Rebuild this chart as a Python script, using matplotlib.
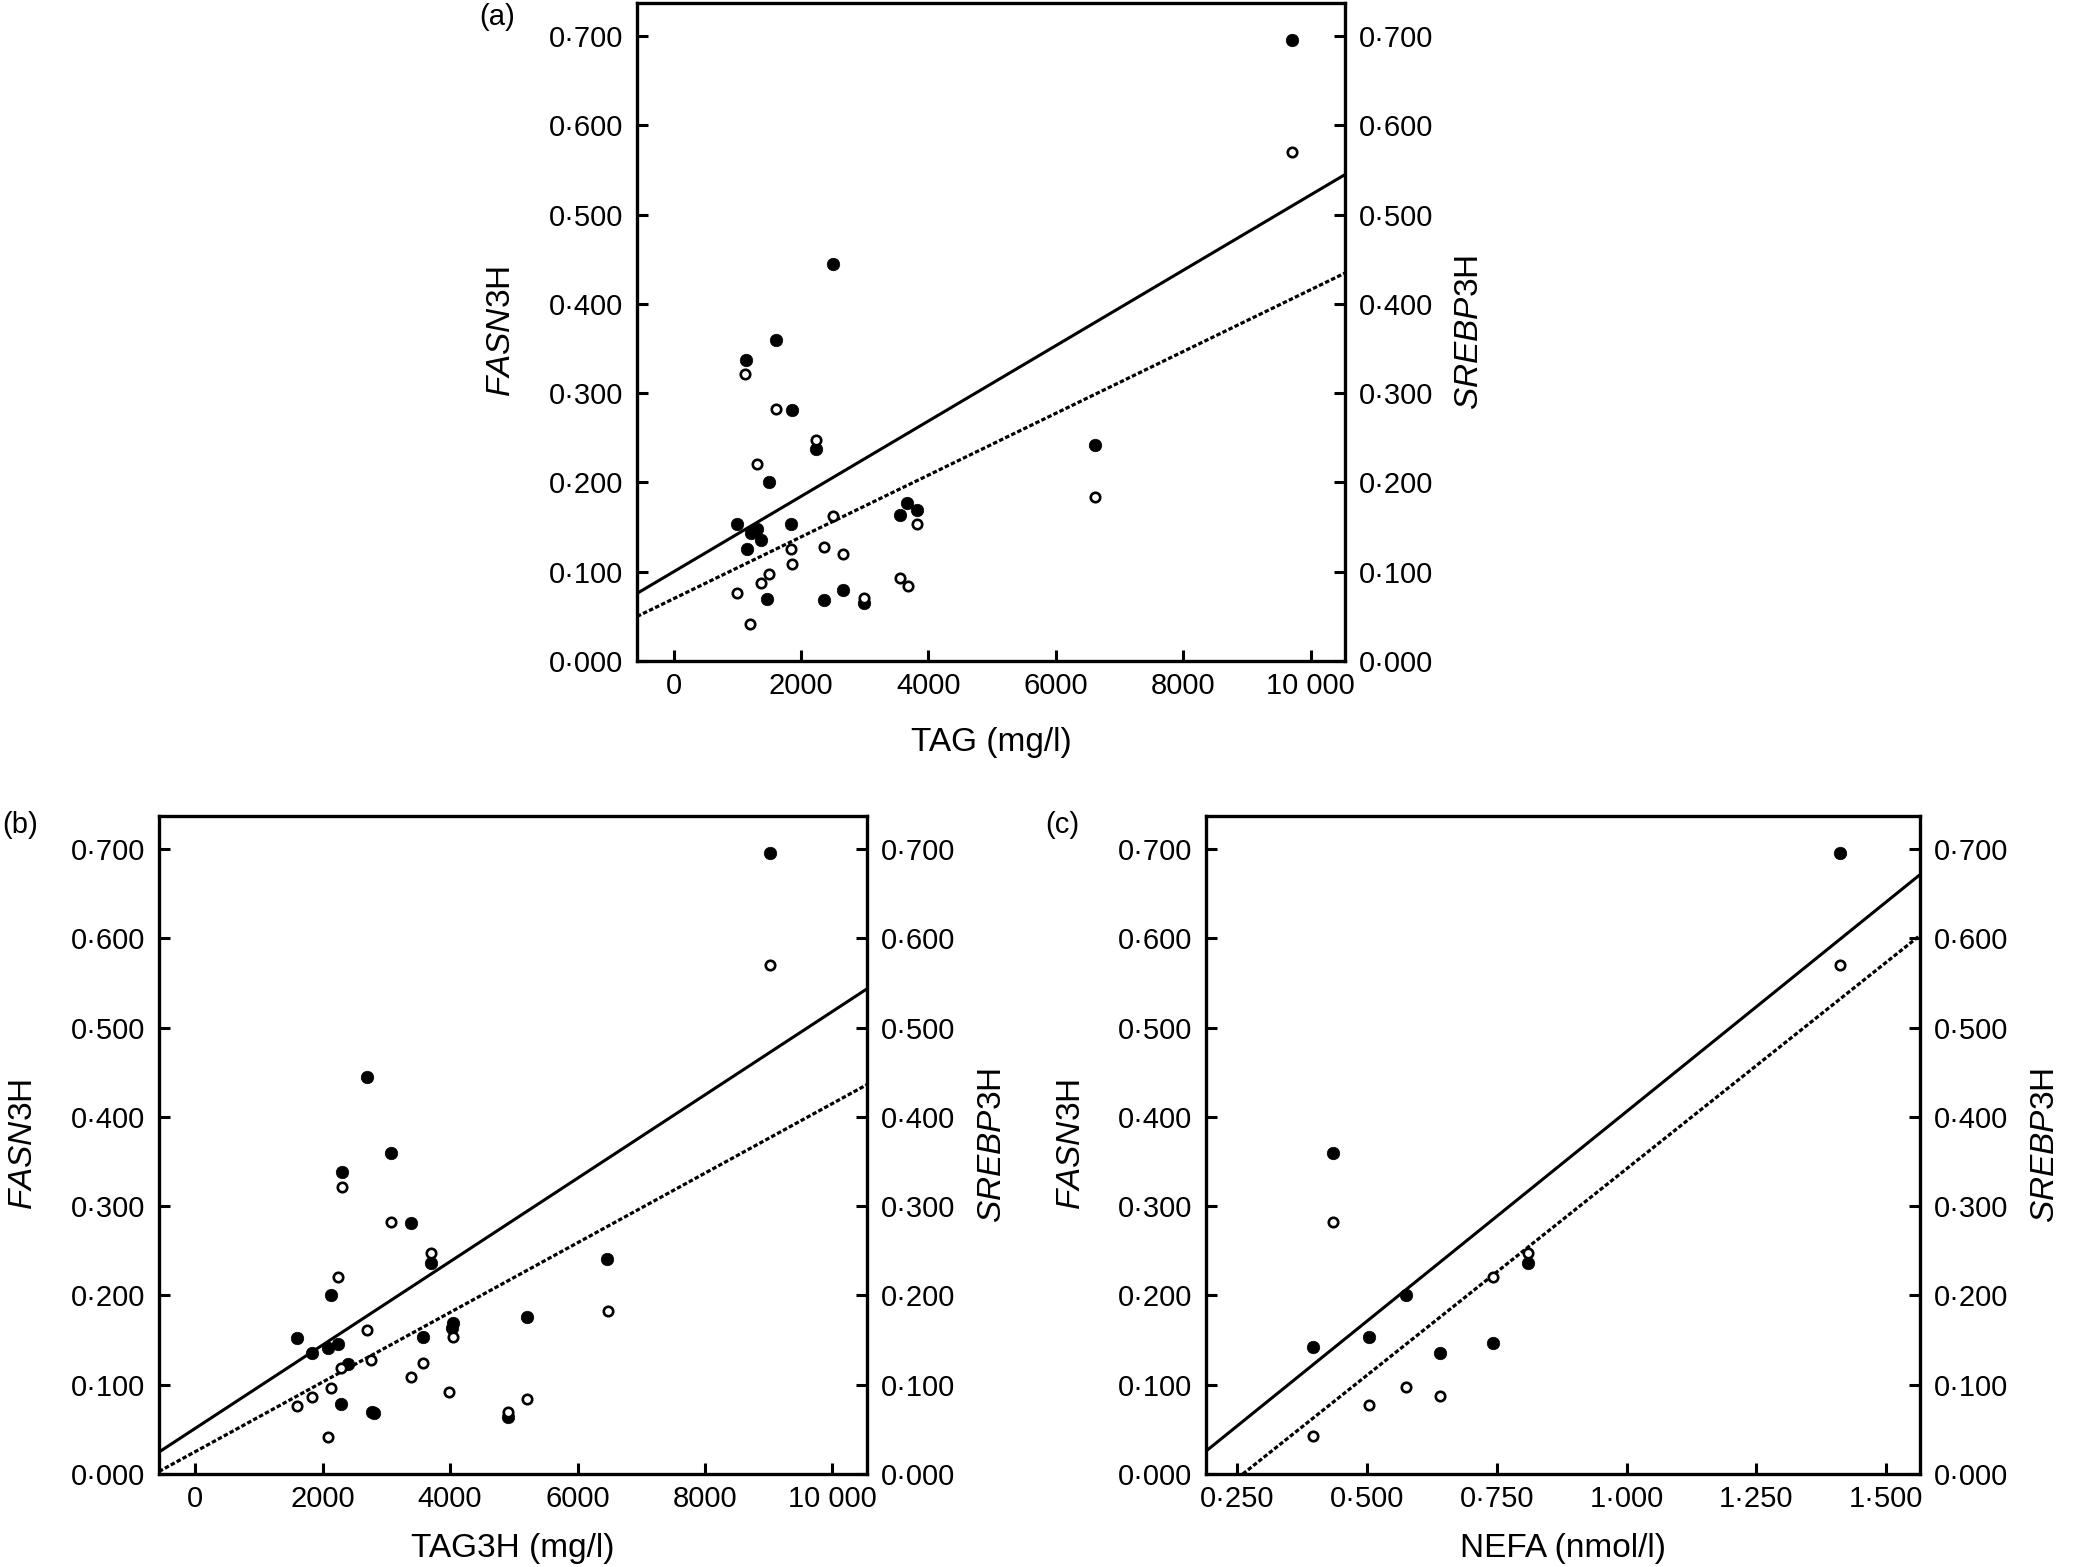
import numpy as np
import matplotlib
matplotlib.use("Agg")
import matplotlib.pyplot as plt
from matplotlib.ticker import FuncFormatter

plt.rcParams['font.family'] = ['Liberation Sans', 'DejaVu Sans']
plt.rcParams['mathtext.fontset'] = 'custom'
plt.rcParams['mathtext.rm'] = 'Liberation Sans'
plt.rcParams['mathtext.it'] = 'Liberation Sans:italic'

# (a) TAG (mg/l)
tag_fasn_x = [999, 1132, 1156, 1209, 1303, 1371, 1460, 1491, 1607, 1847, 1852,
              2235, 2366, 2508, 2654, 2988, 3554, 3669, 3826, 6609, 9715]
tag_fasn_y = [0.153, 0.337, 0.125, 0.143, 0.1475, 0.135, 0.069, 0.201, 0.359, 0.153, 0.281,
              0.237, 0.068, 0.445, 0.080, 0.065, 0.164, 0.177, 0.169, 0.2415, 0.696]
tag_srebp_x = [999, 1124, 1198, 1303, 1366, 1497, 1614, 1847, 1853, 2235,
               2360, 2507, 2654, 2988, 3554, 3675, 3826, 6609, 9715]
tag_srebp_y = [0.0765, 0.321, 0.041, 0.221, 0.087, 0.097, 0.282, 0.125, 0.109, 0.247,
               0.128, 0.162, 0.120, 0.071, 0.093, 0.084, 0.153, 0.184, 0.570]
tag_fit_fasn = (0.100, 4.22e-5)     # intercept, slope
tag_fit_srebp = (0.0698, 3.46e-5)

# (b) TAG3H (mg/l)
tag3h_fasn_x = [1593, 1838, 2079, 2127, 2236, 2288, 2297, 2393, 2703, 2775, 2800,
                3072, 3387, 3570, 3703, 4030, 4050, 4904, 5202, 6468, 9027]
tag3h_fasn_y = [0.1525, 0.135, 0.141, 0.200, 0.146, 0.078, 0.338, 0.123, 0.445, 0.069, 0.068,
                0.359, 0.281, 0.153, 0.236, 0.164, 0.169, 0.064, 0.176, 0.241, 0.696]
tag3h_srebp_x = [1593, 1838, 2079, 2127, 2236, 2288, 2297, 2701, 2760, 3072,
                 3386, 3570, 3703, 3988, 4041, 4904, 5202, 6473, 9027]
tag3h_srebp_y = [0.076, 0.0865, 0.041, 0.096, 0.221, 0.119, 0.321, 0.161, 0.128, 0.282,
                 0.109, 0.124, 0.247, 0.092, 0.153, 0.070, 0.084, 0.183, 0.570]
tag3h_fit_fasn = (0.0511, 4.67e-5)
tag3h_fit_srebp = (0.025, 3.90e-5)

# (c) NEFA (nmol/l)
nefa_fasn_x = [0.396, 0.434, 0.503, 0.576, 0.640, 0.743, 0.811, 1.411]
nefa_fasn_y = [0.142, 0.359, 0.154, 0.201, 0.135, 0.147, 0.236, 0.696]
nefa_srebp_x = [0.396, 0.434, 0.503, 0.576, 0.640, 0.743, 0.811, 1.411]
nefa_srebp_y = [0.043, 0.282, 0.077, 0.097, 0.087, 0.221, 0.247, 0.570]
nefa_fit_fasn = (-0.0636, 0.4696)
nefa_fit_srebp = (-0.1207, 0.4626)

y_ticks = [0.0, 0.1, 0.2, 0.3, 0.4, 0.5, 0.6, 0.7]
tag_ticks = [0, 2000, 4000, 6000, 8000, 10000]
nefa_ticks = [0.25, 0.5, 0.75, 1.0, 1.25, 1.5]

FS = 21     # tick labels
LFS = 24    # axis labels
W, H = 2073, 1567


def dot3(v, pos=None):
    return f"{v:.3f}".replace(".", "\u00b7")


def thousands(v, pos=None):
    v = int(round(v))
    return f"{v:,}".replace(",", " ") if v >= 10000 else str(v)


def panel(rect, fx, fy, sx, sy, fit_f, fit_s, xlim, xticks, xfmt, xlabel, xlab_off):
    l, b, r, t = rect
    ax = fig.add_axes([l / W, 1 - b / H, (r - l) / W, (b - t) / H])
    ax.set_xlim(*xlim)
    ax.set_ylim(0, 0.737)
    xx = np.array(xlim)
    ax.plot(xx, fit_f[0] + fit_f[1] * xx, color='black', lw=2.2, zorder=2)
    ax.plot(xx, fit_s[0] + fit_s[1] * xx, color='black', lw=2.3,
            dashes=(1.4, 0.7), zorder=2)
    ax.plot(fx, fy, 'o', ms=9, mfc='black', mec='black', mew=0.5, ls='none', zorder=3)
    ax.plot(sx, sy, 'o', ms=6.8, mfc='white', mec='black', mew=1.9, ls='none', zorder=4)

    ax.set_xticks(xticks)
    ax.xaxis.set_major_formatter(FuncFormatter(xfmt))
    ax.set_yticks(y_ticks)
    ax.yaxis.set_major_formatter(FuncFormatter(dot3))
    ax.tick_params(axis='both', direction='in', length=8, width=2.2,
                   labelsize=FS, pad=8)
    ax.tick_params(axis='y', pad=10)
    for s in ax.spines.values():
        s.set_linewidth(2.4)

    ax2 = ax.twinx()
    ax2.set_ylim(0, 0.737)
    ax2.set_yticks(y_ticks)
    ax2.yaxis.set_major_formatter(FuncFormatter(dot3))
    ax2.tick_params(axis='y', direction='in', length=8, width=2.2,
                    labelsize=FS, pad=10)

    wpx = r - l
    hpx = b - t
    ax.set_xlabel(xlabel, fontsize=LFS, va='center')
    ax.xaxis.set_label_coords(0.5, -xlab_off / hpx)
    ax.set_ylabel(r'$\mathit{FASN}$3H', fontsize=LFS, va='center')
    ax.yaxis.set_label_coords(-135 / wpx, 0.5)
    ax2.set_ylabel(r'$\mathit{SREBP}$3H', fontsize=LFS, va='center', rotation=90)
    ax2.yaxis.set_label_coords(1 + 125 / wpx, 0.5)
    return ax


fig = plt.figure(figsize=(W / 100, H / 100), dpi=100)

panel((637, 661, 1345, 3), tag_fasn_x, tag_fasn_y, tag_srebp_x, tag_srebp_y,
      tag_fit_fasn, tag_fit_srebp, (-576, 10541), tag_ticks, thousands,
      'TAG (mg/l)', 81)
panel((159, 1474, 867, 816), tag3h_fasn_x, tag3h_fasn_y, tag3h_srebp_x, tag3h_srebp_y,
      tag3h_fit_fasn, tag3h_fit_srebp, (-568, 10542), tag_ticks, thousands,
      'TAG3H (mg/l)', 75)
panel((1206, 1474, 1920, 816), nefa_fasn_x, nefa_fasn_y, nefa_srebp_x, nefa_srebp_y,
      nefa_fit_fasn, nefa_fit_srebp, (0.19, 1.565), nefa_ticks, dot3,
      'NEFA (nmol/l)', 75)

fig.text(497 / W, 1 - 17 / H, '(a)', fontsize=FS, ha='center', va='center')
fig.text(20 / W, 1 - 825 / H, '(b)', fontsize=FS, ha='center', va='center')
fig.text(1062 / W, 1 - 825 / H, '(c)', fontsize=FS, ha='center', va='center')

fig.savefig('out.png', dpi=100)
